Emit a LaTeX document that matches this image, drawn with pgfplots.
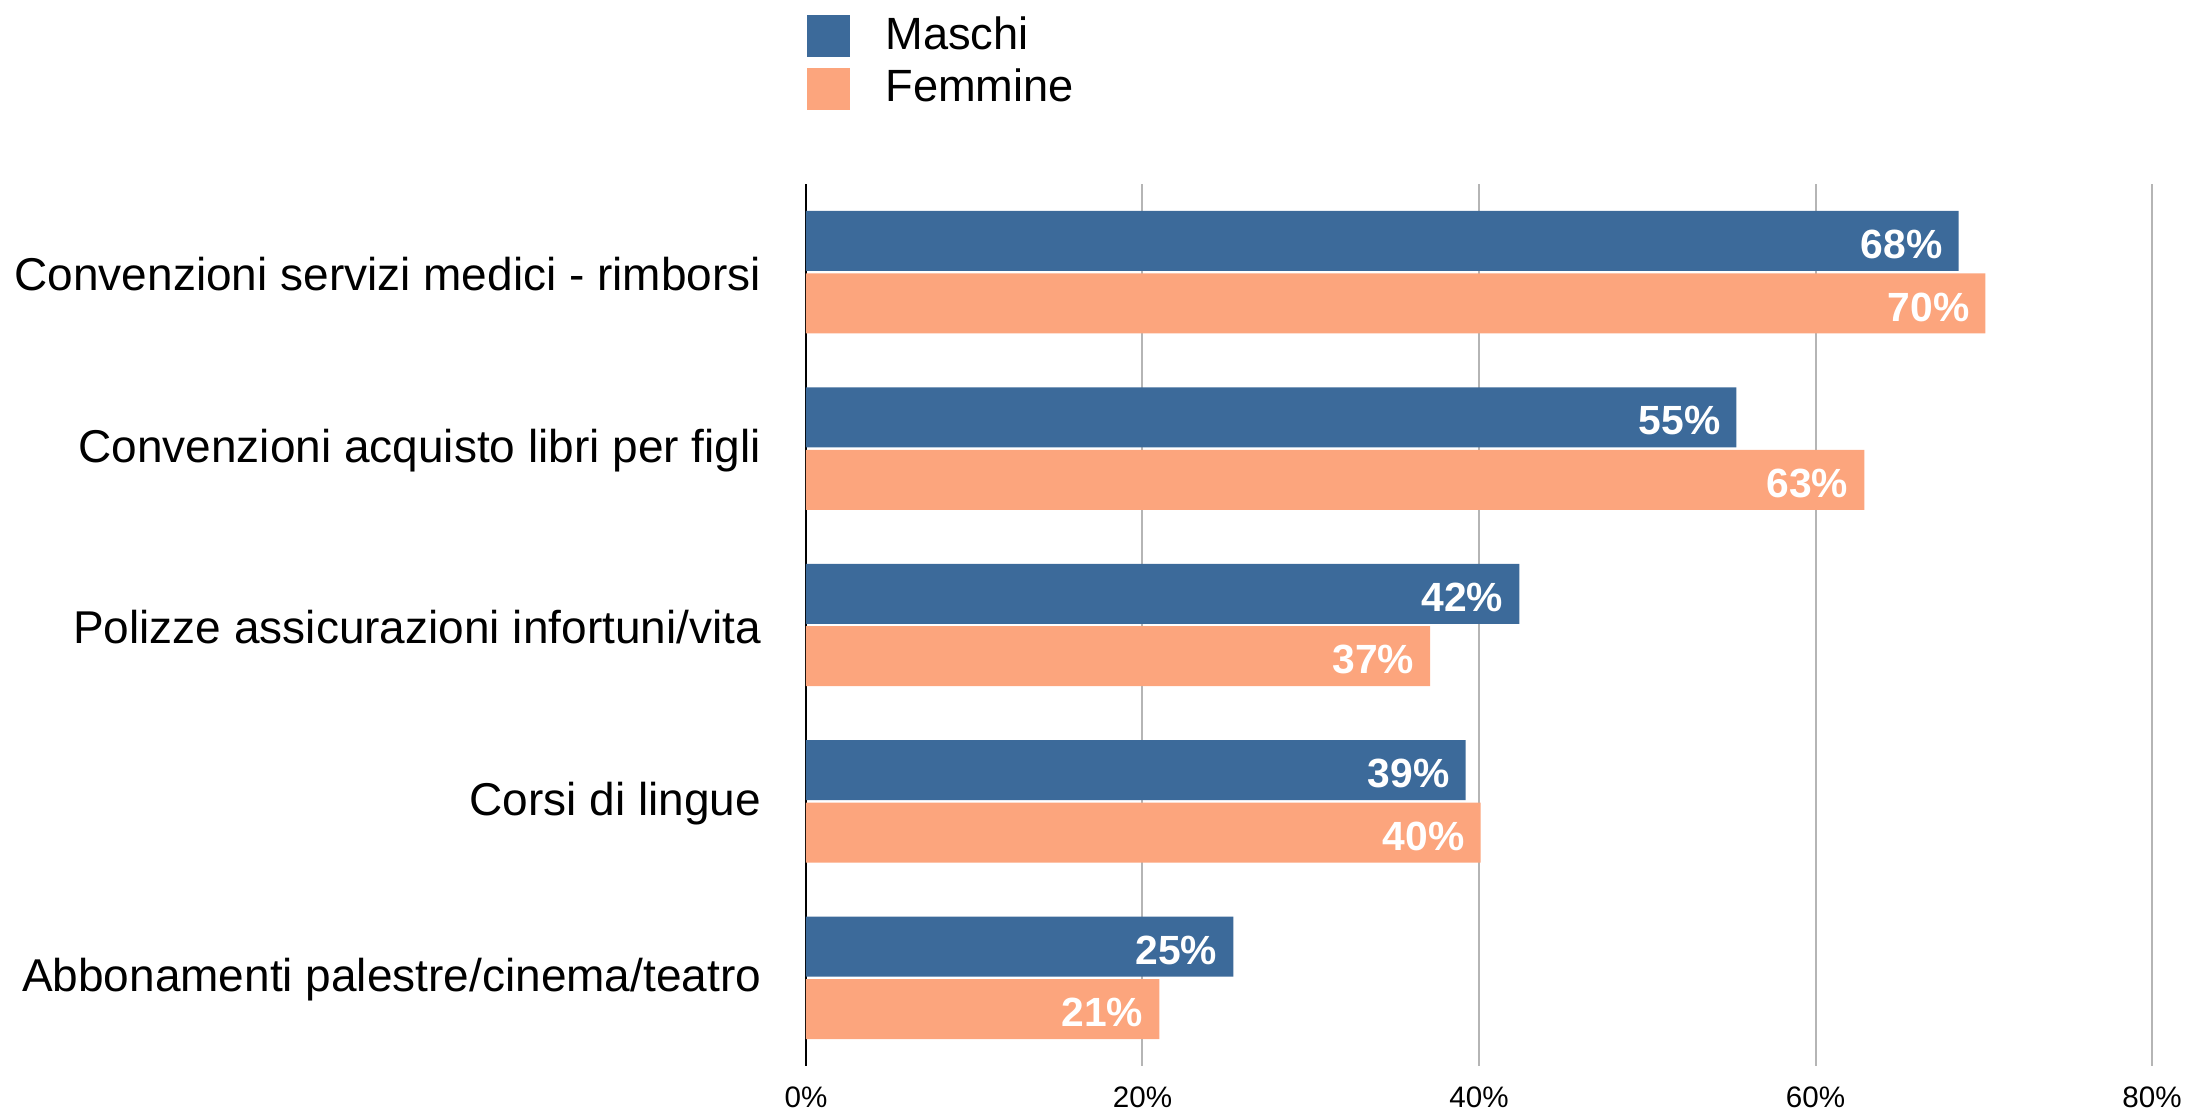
\documentclass[border=0pt]{standalone}
\usepackage{pgfplots}
\pgfplotsset{compat=1.18}
\usepackage{fontspec}
\setmainfont{Liberation Sans}
\definecolor{mblue}{HTML}{3C6A9A}
\definecolor{forange}{HTML}{FCA57D}
\definecolor{gridgray}{HTML}{B5B5B5}
\begin{document}
\begin{tikzpicture}
\useasboundingbox (0pt,0pt) rectangle (552pt,277.25pt);
\begin{axis}[
  at={(201.5pt,10.75pt)}, anchor=south west,
  scale only axis, width=336.5pt, height=220.5pt,
  xbar, bar shift=0pt, bar width=15pt,
  xmin=0, xmax=80, ymin=-0.5, ymax=4.5,
  axis x line*=bottom, axis y line*=left,
  x axis line style={draw=none},
  y axis line style={black, line width=0.5pt},
  tick style={draw=none}, major tick length=0pt,
  xmajorgrids, grid style={gridgray, line width=0.5pt},
  xtick={0,20,40,60,80}, xticklabels={0\%,20\%,40\%,60\%,80\%},
  xticklabel style={font=\fontsize{7.4}{8}\selectfont, yshift=-1.6pt},
  ytick={0,1,2,3,4},
  yticklabels={Abbonamenti palestre/cinema/teatro, Corsi di lingue, Polizze assicurazioni infortuni/vita, Convenzioni acquisto libri per figli, Convenzioni servizi medici - rimborsi},
  yticklabel style={font=\fontsize{11.5}{13}\selectfont, xshift=-7.7pt, yshift=-0.5pt},
  point meta=explicit symbolic,
  nodes near coords={\pgfplotspointmeta\%},
  nodes near coords style={anchor=east, text=white, font=\bfseries\fontsize{10.2}{12}\selectfont, xshift=-0.5pt, yshift=-0.9pt},
  legend style={at={(0,1)}, anchor=south west, xshift=0.25pt, yshift=18pt, draw=none, fill=none, inner sep=0pt, outer sep=0pt, font=\fontsize{11.3}{13}\selectfont, nodes={inner sep=1pt}, row sep=1.5pt, /tikz/every odd column/.append style={column sep=7.9pt}},
  legend cell align=left,
  legend image code/.code={\fill[#1] (0pt,-5.25pt) rectangle (10.75pt,5.25pt);},
]
\addplot[fill=mblue, draw=none] coordinates {
  (68.5,4.177) [68]
  (55.3,3.177) [55]
  (42.4,2.177) [42]
  (39.2,1.177) [39]
  (25.4,0.177) [25]
};
\addlegendentry{Maschi}
\addplot[fill=forange, draw=none] coordinates {
  (70.1,3.823) [70]
  (62.9,2.823) [63]
  (37.1,1.823) [37]
  (40.1,0.823) [40]
  (21.0,-0.177) [21]
};
\addlegendentry{Femmine}
\end{axis}
\end{tikzpicture}
\end{document}
